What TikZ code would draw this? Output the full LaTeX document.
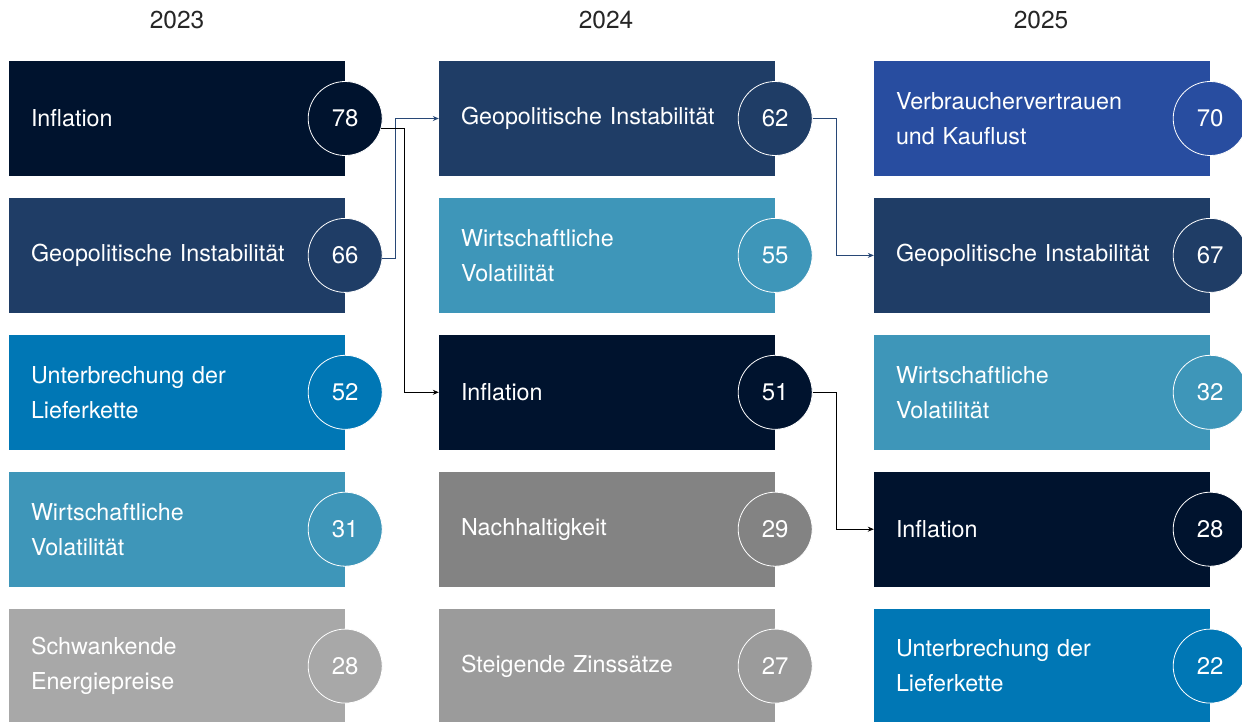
\documentclass[tikz,border=0pt]{standalone}
\usepackage{fontspec}
\setmainfont{TeX Gyre Heros}
\usepackage{xcolor}
\usepackage{tikz}
\usetikzlibrary{arrows.meta, positioning}
\definecolor{navy}{RGB}{0,19,46}
\definecolor{geoblue}{RGB}{31,61,102}
\definecolor{chainblue}{RGB}{0,119,181}
\definecolor{volblue}{RGB}{62,150,185}
\definecolor{trustblue}{RGB}{40,77,160}
\definecolor{energygray}{RGB}{168,168,168}
\definecolor{sustgray}{RGB}{131,131,131}
\definecolor{rategray}{RGB}{155,155,155}
\definecolor{linkblue}{RGB}{40,72,118}
\tikzset{
  blk/.style={rectangle,minimum width=336pt,minimum height=115pt,
              text width=292pt,inner xsep=22pt,align=left,text=white,
              font=\fontsize{23.3}{35}\selectfont},
  num/.style={circle,draw=white,line width=0.8pt,minimum size=74pt,
              inner sep=0pt,text=white,font=\fontsize{24}{28}\selectfont},
  yr/.style={font=\fontsize{24.5}{28}\selectfont,text=black!85},
  arr/.style={-{Stealth[length=6pt,width=5pt]},line width=0.8pt},
}

\begin{document}
\begin{tikzpicture}[x=1pt,y=-1pt,node distance=21.5pt]
  \useasboundingbox (0,0) rectangle (1242,722);
  % years
  \node[yr](y23) at (177,20){2023};
  \node[yr](y24) at (606,20){2024};
  \node[yr](y25) at (1041,20){2025};
  % 2023
  \node[blk,fill=navy](i23) at (177,118.5){Inflation};
  \node[blk,fill=geoblue,below=of i23](g23){Geopolitische Instabilität};
  \node[blk,fill=chainblue,below=of g23](u23){Unterbrechung der\\Lieferkette};
  \node[blk,fill=volblue,below=of u23](w23){Wirtschaftliche\\Volatilität};
  \node[blk,fill=energygray,below=of w23](s23){Schwankende\\Energiepreise};
  \node[num,fill=navy](i23n) at (i23.east){78};
  \node[num,fill=geoblue](g23n) at (g23.east){66};
  \node[num,fill=chainblue](u23n) at (u23.east){52};
  \node[num,fill=volblue](w23n) at (w23.east){31};
  \node[num,fill=energygray](s23n) at (s23.east){28};
  % 2024
  \node[blk,fill=geoblue](g24) at (607,118.5){Geopolitische Instabilität};
  \node[blk,fill=volblue,below=of g24](w24){Wirtschaftliche\\Volatilität};
  \node[blk,fill=navy,below=of w24](i24){Inflation};
  \node[blk,fill=sustgray,below=of i24](n24){Nachhaltigkeit};
  \node[blk,fill=rategray,below=of n24](z24){Steigende Zinssätze};
  \node[num,fill=geoblue](g24n) at (g24.east){62};
  \node[num,fill=volblue](w24n) at (w24.east){55};
  \node[num,fill=navy](i24n) at (i24.east){51};
  \node[num,fill=sustgray](n24n) at (n24.east){29};
  \node[num,fill=rategray](z24n) at (z24.east){27};
  % 2025
  \node[blk,fill=trustblue](v25) at (1042,118.5){Verbrauchervertrauen\\und Kauflust};
  \node[blk,fill=geoblue,below=of v25](g25){Geopolitische Instabilität};
  \node[blk,fill=volblue,below=of g25](w25){Wirtschaftliche\\Volatilität};
  \node[blk,fill=navy,below=of w25](i25){Inflation};
  \node[blk,fill=chainblue,below=of i25](u25){Unterbrechung der\\Lieferkette};
  \node[num,fill=trustblue](v25n) at (v25.east){70};
  \node[num,fill=geoblue](g25n) at (g25.east){67};
  \node[num,fill=volblue](w25n) at (w25.east){32};
  \node[num,fill=navy](i25n) at (i25.east){28};
  \node[num,fill=chainblue](u25n) at (u25.east){22};
  % moves between years
  \draw[arr,linkblue](g23n.-5)--++(13,0)|-(g24.west);
  \draw[arr,black](i23n.-15)--++(23,0)|-(i24.west);
  \draw[arr,linkblue](g24n.east)--++(24,0)|-(g25.west);
  \draw[arr,black](i24n.east)--++(24,0)|-(i25.west);
\end{tikzpicture}
\end{document}
